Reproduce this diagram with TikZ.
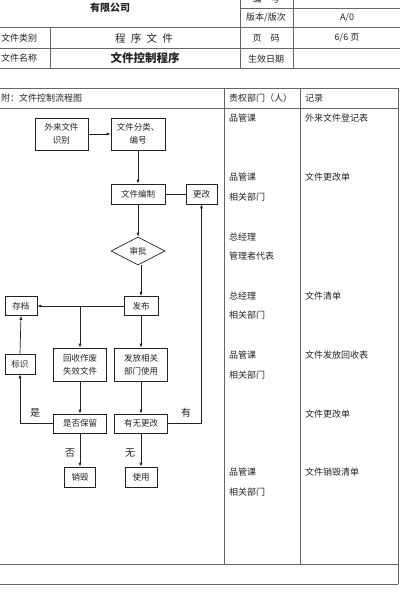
\documentclass[tikz,border=0pt]{standalone}
\usepackage{fontspec}
\setmainfont{Noto Sans CJK SC}
\usetikzlibrary{arrows.meta,shapes.geometric}
\definecolor{ink}{HTML}{222222}
\definecolor{rule}{HTML}{666666}
\tikzset{
  tline/.style={draw=rule,line width=0.8pt},
  ttext/.style={text=ink,font=\fontsize{9}{11}\selectfont,inner sep=0pt},
  fbox/.style={draw=ink,line width=0.7pt,text=ink,inner sep=0pt,align=center,
    font=\fontsize{8.5}{13}\selectfont},
  fline/.style={draw=ink,line width=0.7pt},
  arr/.style={fline,-{Latex[length=4pt,width=3pt]}},
  lab/.style={text=ink,inner sep=0pt,font=\fontsize{10}{12}\selectfont},
}
\begin{document}
\begin{tikzpicture}[x=1pt,y=-1pt]
\useasboundingbox (0,0) rectangle (400,608);
% ---------- header table ----------
\draw[tline] (240,8) -- (400,8);
\draw[tline] (0,27) -- (400,27);
\draw[tline] (0,48) -- (400,48);
\draw[tline] (0,68) -- (400,68);
\draw[tline] (240,-2) -- (240,68);
\draw[tline] (293,-2) -- (293,68);
\draw[tline] (50,27) -- (50,68);
\node[ttext] (hbh) at (266,-1) {编\quad 号};
\node[ttext,font=\fontsize{10}{12}\selectfont\bfseries] (hgs) at (110,8) {有限公司};
\node[ttext] (hbb) at (266,18) {版本/版次};
\node[ttext] (hav) at (347,18) {A/0};
\node[ttext,anchor=west] (hlb) at (1,38) {文件类别};
\node[ttext,font=\fontsize{10.5}{12}\selectfont] (hcx) at (144,38) {程\enspace 序\enspace 文\enspace 件};
\node[ttext] (hym) at (266,38) {页\quad 码};
\node[ttext] (hpg) at (347,38) {6/6 页};
\node[ttext,anchor=west] (hmc) at (1,58) {文件名称};
\node[ttext,font=\fontsize{11.5}{13}\selectfont\bfseries] (hkz) at (145,58) {文件控制程序};
\node[ttext] (hrq) at (266,59) {生效日期};
% ---------- main table ----------
\draw[tline] (0,88) -- (398,88);
\draw[tline] (0,108) -- (398,108);
\draw[tline] (0,564) -- (398,564);
\draw[tline] (0,584) -- (398,584);
\draw[tline] (398,88) -- (398,584);
\draw[tline] (224,88) -- (224,564);
\draw[tline] (300,88) -- (300,564);
\node[ttext,anchor=west] (mt) at (1,98) {附：文件控制流程图};
\node[ttext,anchor=west] (md) at (229,98) {责权部门（人）};
\node[ttext,anchor=west] (mr) at (305,98) {记录};
% department column
\node[ttext,anchor=west] (d1) at (229,118) {品管课};
\node[ttext,anchor=west] (d2) at (229,177) {品管课};
\node[ttext,anchor=west] (d3) at (229,197) {相关部门};
\node[ttext,anchor=west] (d4) at (229,237) {总经理};
\node[ttext,anchor=west] (d5) at (229,256) {管理者代表};
\node[ttext,anchor=west] (d6) at (229,296) {总经理};
\node[ttext,anchor=west] (d7) at (229,315) {相关部门};
\node[ttext,anchor=west] (d8) at (229,355) {品管课};
\node[ttext,anchor=west] (d9) at (229,375) {相关部门};
\node[ttext,anchor=west] (d10) at (229,472) {品管课};
\node[ttext,anchor=west] (d11) at (229,492) {相关部门};
% record column
\node[ttext,anchor=west] (r1) at (305,118) {外来文件登记表};
\node[ttext,anchor=west] (r2) at (305,177) {文件更改单};
\node[ttext,anchor=west] (r3) at (305,296) {文件清单};
\node[ttext,anchor=west] (r4) at (305,355) {文件发放回收表};
\node[ttext,anchor=west] (r5) at (305,414) {文件更改单};
\node[ttext,anchor=west] (r6) at (305,472) {文件销毁清单};
% ---------- flowchart ----------
\node[fbox,minimum width=53,minimum height=32] (wl) at (61.5,134) {外来文件\\识别};
\node[fbox,minimum width=54,minimum height=32] (fl) at (138,134) {文件分类、\\编号};
\node[fbox,minimum width=54,minimum height=20] (bz) at (138,194) {文件编制};
\node[fbox,minimum width=31,minimum height=20] (gg) at (201.5,194) {更改};
\node[fbox,diamond,minimum width=54,minimum height=28] (sp) at (138,251) {审批};
\node[fbox,minimum width=34,minimum height=19] (fb) at (141,306) {发布};
\node[fbox,minimum width=32,minimum height=19] (cd) at (21,306) {存档};
\node[fbox,minimum width=30,minimum height=20] (bs) at (20,364) {标识};
\node[fbox,minimum width=53,minimum height=33] (hs) at (80,364.5) {回收作废\\失效文件};
\node[fbox,minimum width=53,minimum height=33] (ff) at (141,364.5) {发放相关\\部门使用};
\node[fbox,minimum width=53,minimum height=19] (sf) at (80,423.5) {是否保留};
\node[fbox,minimum width=53,minimum height=19] (yw) at (141,423.5) {有无更改};
\node[fbox,minimum width=31,minimum height=20] (xh) at (80,477) {销毁};
\node[fbox,minimum width=32,minimum height=20] (sy) at (141,477) {使用};
% connectors
\draw[arr] (wl.east) -- (fl.west);
\draw[arr] (fl.south) -- (bz.north);
\draw[fline] (bz.east) -- (gg.west);
\draw[arr] (bz.south) -- (sp.north);
\draw[arr] (sp.south -| fb.north) -- (fb.north);
\draw[arr] (fb.west) -- (cd.east);
\coordinate (br) at (hs.north |- fb.west);
\draw[arr] (br) -- (hs.north);
\draw[arr] (fb.south) -- (ff.north);
\draw[arr] (bs.north) -- (cd.south);
\draw[arr] (hs.south) -- (sf.north);
\draw[arr] (ff.south) -- (yw.north);
\draw[arr] (sf.west) -| (bs.south);
\draw[arr] (yw.east) -| (gg.south);
\draw[arr] (sf.south) -- (xh.north);
\draw[arr] (yw.south) -- (sy.north);
% branch labels
\node[lab] (ls) at (35,413) {是};
\node[lab] (ly) at (186,413) {有};
\node[lab] (lf) at (70,453) {否};
\node[lab] (lw) at (130,453) {无};
\end{tikzpicture}
\end{document}
